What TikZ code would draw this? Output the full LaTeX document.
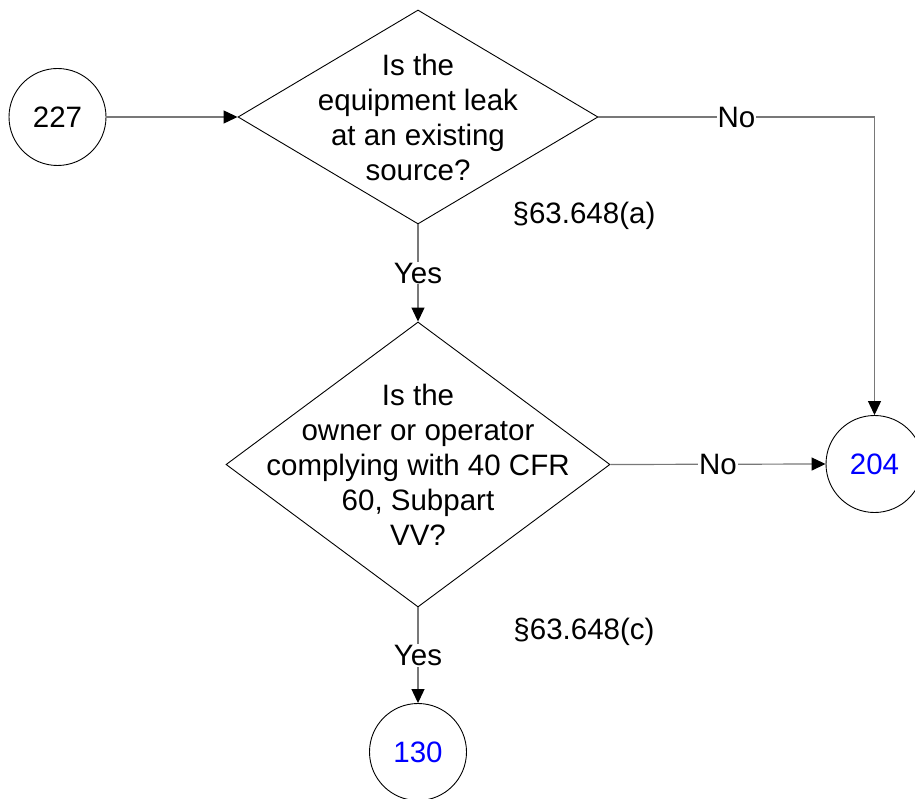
\documentclass[tikz,border=0pt]{standalone}
\usepackage{fontspec}
\setmainfont{Liberation Sans}
\usetikzlibrary{shapes.geometric,arrows.meta}
\definecolor{linegray}{RGB}{120,120,120}
\definecolor{refblue}{RGB}{0,0,255}
\tikzset{
  x=1pt, y=-1pt,
  every node/.style={font=\fontsize{29.5}{35}\selectfont},
  term/.style={circle, draw=black, line width=0.9pt, minimum size=97pt, inner sep=0pt},
  decision/.style={diamond, draw=black, line width=0.9pt, inner sep=0pt},
  dtext/.style={align=center, inner sep=0pt},
  conn/.style={draw=linegray, line width=1.2pt},
  arr/.style={conn, -{Triangle[length=14pt,width=13pt,fill=black,color=black]}},
  lbl/.style={fill=white, inner sep=1pt},
  ref/.style={inner sep=0pt}
}
\begin{document}
\begin{tikzpicture}
\useasboundingbox (0,0) rectangle (915,799);
\node[term] (n227) at (57.5,117) {227};
\node[decision, minimum width=360pt, minimum height=214pt] (d1) at (418,117) {};
\node[dtext] (t1) at (418,117) {Is the\\equipment leak\\at an existing\\source?};
\node[decision, minimum width=384pt, minimum height=285pt] (d2) at (418,464.5) {};
\node[dtext] (t2) at (418,464.5) {Is the\\owner or operator\\complying with 40 CFR\\60, Subpart\\VV?};
\node[term, text=refblue] (n204) at (874.5,464) {204};
\node[term, text=refblue] (n130) at (418,752) {130};
\coordinate (corner) at (n204.north |- d1.east);
\draw[arr] (n227.east) -- (d1.west);
\draw[conn] (d1.east) -- node[lbl] (no1) {No} (corner);
\draw[arr] (corner) -- (n204.north);
\draw[arr] (d1.south) -- node[lbl] (yes1) {Yes} (d2.north);
\draw[arr] (d2.east) -- node[lbl, pos=0.5] (no2) {No} (n204.west);
\draw[arr] (d2.south) -- node[lbl, pos=0.5] (yes2) {Yes} (n130.north);
\node[ref] (r1) at (584,216) {§63.648(a)};
\node[ref] (r2) at (584,632) {§63.648(c)};
\end{tikzpicture}
\end{document}
